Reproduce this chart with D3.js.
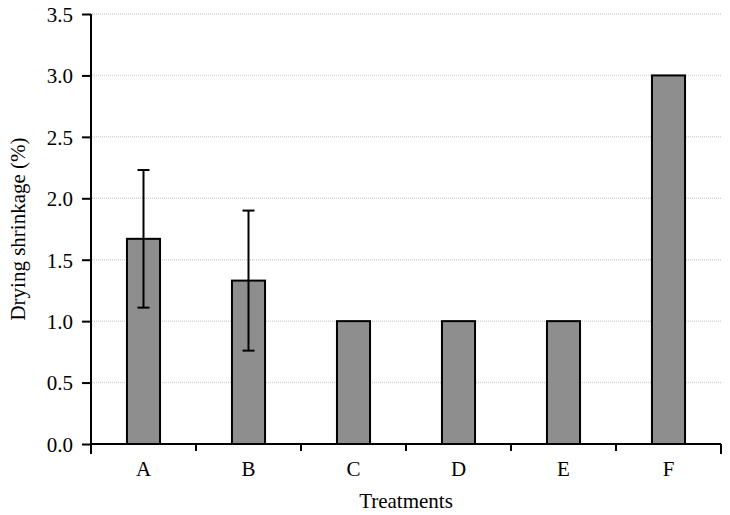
<!DOCTYPE html>
<html>
<head>
<meta charset="utf-8">
<script src="https://cdn.jsdelivr.net/npm/d3@7"></script>
<style>
  body { margin: 0; background: #fff; }
  text { font-family: "Liberation Serif", "Times New Roman", serif; fill: #000; }
</style>
</head>
<body>
<div id="chart"></div>
<script>
// Data
const TREATMENTS = ["A", "B", "C", "D", "E", "F"];
const SHRINKAGE = [1.67, 1.33, 1.0, 1.0, 1.0, 3.0];
const ERR_LOW = [1.11, 0.76, null, null, null, null];
const ERR_HIGH = [2.23, 1.90, null, null, null, null];
const Y_TICKS = [0, 0.5, 1.0, 1.5, 2.0, 2.5, 3.0, 3.5];

const FRAME_WIDTH = 730;
const FRAME_HEIGHT = 515;
const MARGINS = {left: 91, right: 9, top: 14, bottom: 71};
const VIS_WIDTH = FRAME_WIDTH - MARGINS.left - MARGINS.right;
const VIS_HEIGHT = FRAME_HEIGHT - MARGINS.top - MARGINS.bottom;

const svg = d3.select("#chart")
  .append("svg")
    .attr("width", FRAME_WIDTH)
    .attr("height", FRAME_HEIGHT);

const g = svg.append("g")
  .attr("transform", "translate(" + MARGINS.left + "," + MARGINS.top + ")");

const X_SCALE = d3.scaleBand()
  .domain(TREATMENTS)
  .range([0, VIS_WIDTH])
  .paddingInner(0.685)
  .paddingOuter(0.3425);

const Y_SCALE = d3.scaleLinear()
  .domain([0, 3.5])
  .range([VIS_HEIGHT, 0]);

// gridlines
g.selectAll(".grid")
  .data(Y_TICKS.filter(d => d > 0))
  .enter()
  .append("line")
    .attr("x1", 1)
    .attr("x2", VIS_WIDTH + 1)
    .attr("y1", d => Y_SCALE(d))
    .attr("y2", d => Y_SCALE(d))
    .attr("stroke", "#d4d4d4")
    .attr("stroke-width", 1.5)
    .attr("stroke-dasharray", "1,1");

// bars
const data = TREATMENTS.map((t, i) => ({t: t, v: SHRINKAGE[i], lo: ERR_LOW[i], hi: ERR_HIGH[i]}));

g.selectAll(".bar")
  .data(data)
  .enter()
  .append("rect")
    .attr("x", d => X_SCALE(d.t))
    .attr("y", d => Y_SCALE(d.v))
    .attr("width", X_SCALE.bandwidth())
    .attr("height", d => VIS_HEIGHT - Y_SCALE(d.v))
    .attr("fill", "#8e8e8e")
    .attr("stroke", "#000")
    .attr("stroke-width", 2);

// error bars
const errs = data.filter(d => d.lo !== null);
const cx = d => X_SCALE(d.t) + X_SCALE.bandwidth() / 2;

g.selectAll(".err")
  .data(errs)
  .enter()
  .append("line")
    .attr("x1", cx).attr("x2", cx)
    .attr("y1", d => Y_SCALE(d.lo))
    .attr("y2", d => Y_SCALE(d.hi))
    .attr("stroke", "#000")
    .attr("stroke-width", 2);

["lo", "hi"].forEach(k => {
  g.selectAll(".cap-" + k)
    .data(errs)
    .enter()
    .append("line")
      .attr("x1", d => cx(d) - 6)
      .attr("x2", d => cx(d) + 6)
      .attr("y1", d => Y_SCALE(d[k]))
      .attr("y2", d => Y_SCALE(d[k]))
      .attr("stroke", "#000")
      .attr("stroke-width", 2);
});

// y axis
const yAxis = g.append("g")
  .call(d3.axisLeft(Y_SCALE).tickValues(Y_TICKS).tickFormat(d3.format(".1f")).tickSize(9).tickPadding(9));
yAxis.select(".domain").attr("stroke-width", 2).attr("d", "M0,0V" + VIS_HEIGHT);
yAxis.selectAll(".tick line").attr("stroke-width", 2);
yAxis.selectAll("text").attr("font-size", "21px").attr("dy", "0.35em").style("font-family", "'Liberation Serif', serif");

// x axis
const xAxis = g.append("g")
  .attr("transform", "translate(0," + VIS_HEIGHT + ")");
xAxis.append("line")
  .attr("x1", 0).attr("x2", VIS_WIDTH)
  .attr("stroke", "#000").attr("stroke-width", 2);

const bounds = d3.range(TREATMENTS.length + 1).map(i => i * X_SCALE.step());
xAxis.selectAll(".xt")
  .data(bounds)
  .enter()
  .append("line")
    .attr("x1", d => d).attr("x2", d => d)
    .attr("y1", 0).attr("y2", (d, i) => (i === 0 || i === TREATMENTS.length) ? 10 : 7)
    .attr("stroke", "#000")
    .attr("stroke-width", 2);

xAxis.selectAll(".xl")
  .data(TREATMENTS)
  .enter()
  .append("text")
    .attr("x", d => X_SCALE(d) + X_SCALE.bandwidth() / 2)
    .attr("y", 32)
    .attr("text-anchor", "middle")
    .attr("font-size", "21px")
    .text(d => d);

// axis titles
svg.append("text")
  .attr("x", 406)
  .attr("y", 508)
  .attr("text-anchor", "middle")
  .attr("font-size", "21px")
  .text("Treatments");

svg.append("text")
  .attr("transform", "translate(25,229) rotate(-90)")
  .attr("text-anchor", "middle")
  .attr("font-size", "21px")
  .text("Drying shrinkage (%)");
</script>
</body>
</html>
